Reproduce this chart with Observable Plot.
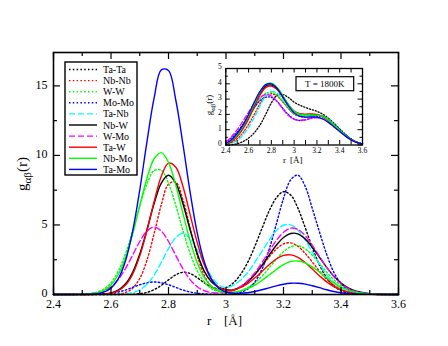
<!DOCTYPE html>
<html><head><meta charset="utf-8">
<script src="https://cdn.jsdelivr.net/npm/d3@7"></script>
<script src="https://cdn.jsdelivr.net/npm/@observablehq/plot@0.6"></script>
<style>
html,body{margin:0;padding:0;background:#fff;}
#wrap{position:relative;width:448px;height:346px;font-family:"Liberation Serif","Times New Roman",serif;}
#wrap svg{position:absolute;}
</style></head><body><div id="wrap"></div>
<script>
// ---- main panel data (r in Å, g(r)) ----
const rMain = [2.4, 2.5, 2.55, 2.575, 2.6, 2.625, 2.65, 2.675, 2.7, 2.725, 2.75, 2.775, 2.8, 2.825, 2.85, 2.875, 2.9, 2.925, 2.95, 2.975, 3.0, 3.025, 3.05, 3.075, 3.1, 3.125, 3.15, 3.175, 3.2, 3.225, 3.25, 3.275, 3.3, 3.325, 3.35, 3.375, 3.4, 3.425, 3.45, 3.5, 3.6];
const TaTa = [0, 0, 0, 0, 0, 0, .01, .02, .06, .15, .35, .66, 1.05, 1.41, 1.6, 1.51, 1.21, .83, .54, .41, .49, .82, 1.42, 2.29, 3.45, 4.75, 6.0, 6.95, 7.39, 7.15, 6.21, 4.84, 3.39, 2.13, 1.2, .61, .28, .11, .04, .01, 0];
const NbNb = [0, 0, 0, 0, .01, .04, .14, .45, 1.15, 2.46, 4.38, 6.46, 7.93, 8.08, 6.84, 4.8, 2.8, 1.35, .56, .24, .2, .3, .53, .9, 1.42, 2.04, 2.70, 3.27, 3.64, 3.71, 3.47, 2.97, 2.34, 1.68, 1.11, .68, .38, .19, .09, .02, 0];
const WW = [0, .02, .16, .39, .85, 1.67, 2.91, 4.55, 6.36, 7.96, 8.91, 8.93, 8.01, 6.43, 4.62, 2.97, 1.70, .88, .41, .2, .13, .15, .26, .49, .84, 1.32, 1.91, 2.53, 3.08, 3.43, 3.52, 3.29, 2.83, 2.24, 1.62, 1.07, .65, .36, .19, .04, 0];
const MoMo = [0, 0, .02, .04, .09, .18, .32, .51, .70, .84, .9, .84, .70, .51, .32, .18, .09, .04, .02, .01, .02, .05, .14, .38, .89, 1.81, 3.24, 5.06, 6.91, 8.24, 8.58, 7.8, 6.2, 4.5, 2.9, 1.6, .8, .35, .13, .02, 0];
const TaNb = [0, 0, 0, 0, 0, .01, .04, .13, .33, .73, 1.40, 2.31, 3.30, 4.09, 4.4, 4.05, 3.2, 2.2, 1.3, .68, .5, .66, 1.02, 1.57, 2.3, 3.1, 3.9, 4.6, 4.98, 5.01, 4.64, 3.94, 3.06, 2.19, 1.43, .86, .47, .24, .11, .02, 0];
const NbW = [0, 0, .01, .04, .11, .31, .75, 1.58, 2.91, 4.66, 6.54, 8.01, 8.57, 8.01, 6.54, 4.66, 2.95, 1.65, .9, .52, .35, .33, .55, .91, 1.44, 2.09, 2.83, 3.54, 4.1, 4.39, 4.36, 4.0, 3.4, 2.68, 1.95, 1.32, .82, .48, .26, .06, 0];
const WMo = [0, .02, .10, .25, .55, 1.07, 1.85, 2.82, 3.81, 4.56, 4.85, 4.56, 3.81, 2.82, 1.85, 1.07, .56, .27, .14, .11, .15, .30, .56, .98, 1.55, 2.28, 3.1, 3.88, 4.47, 4.77, 4.68, 4.24, 3.55, 2.74, 1.95, 1.28, .77, .43, .22, .04, 0];
const TaW = [0, 0, .01, .03, .09, .27, .66, 1.45, 2.76, 4.59, 6.69, 8.5, 9.45, 9.17, 7.78, 5.76, 3.73, 2.11, 1.07, .52, .31, .32, .49, .78, 1.18, 1.66, 2.14, 2.55, 2.81, 2.85, 2.67, 2.30, 1.83, 1.35, .91, .57, .33, .18, .09, .02, 0];
const NbMo = [0, .02, .11, .30, .69, 1.42, 2.62, 4.32, 6.36, 8.34, 9.76, 10.2, 9.5, 7.89, 5.85, 3.87, 2.29, 1.2, .58, .27, .15, .16, .25, .42, .67, 1.01, 1.40, 1.80, 2.15, 2.37, 2.41, 2.28, 1.99, 1.61, 1.21, .84, .54, .32, .18, .04, 0];
const TaMo = [0, .01, .05, .17, .46, 1.12, 2.39, 4.52, 7.51, 10.98, 14.13, 16.15, 16.1, 14.02, 10.84, 7.38, 4.42, 2.33, 1.08, .45, .18, .09, .09, .13, .22, .34, .48, .62, .74, .81, .81, .75, .63, .49, .34, .22, .13, .07, .04, .01, 0];

// ---- inset data (T = 1800K) ----
const rInset = [2.4, 2.45, 2.5, 2.55, 2.6, 2.65, 2.7, 2.75, 2.8, 2.85, 2.9, 2.95, 3.0, 3.05, 3.1, 3.15, 3.2, 3.25, 3.3, 3.35, 3.4, 3.45, 3.5, 3.55, 3.6];
const TaTaL = [0, .02, .08, .22, .45, .8, 1.3, 2.0, 2.75, 3.25, 3.3, 3.1, 2.8, 2.6, 2.45, 2.32, 2.2, 2.02, 1.75, 1.42, 1.05, .7, .4, .2, .08];
const NbNbL = [.03, .15, .4, .8, 1.35, 2.0, 2.7, 3.2, 3.35, 3.2, 2.82, 2.38, 2.02, 1.85, 1.83, 1.88, 1.92, 1.86, 1.65, 1.33, .97, .63, .36, .17, .07];
const WWL = [.08, .3, .65, 1.15, 1.75, 2.4, 3.0, 3.38, 3.45, 3.25, 2.85, 2.4, 2.05, 1.88, 1.85, 1.9, 1.95, 1.9, 1.7, 1.38, 1.0, .65, .37, .18, .08];
const MoMoL = [.15, .45, .85, 1.35, 1.9, 2.45, 2.9, 3.12, 3.12, 2.85, 2.4, 1.98, 1.7, 1.6, 1.64, 1.75, 1.84, 1.82, 1.65, 1.35, 1.0, .66, .38, .18, .08];
const TaNbL = [.02, .1, .3, .65, 1.15, 1.8, 2.55, 3.2, 3.5, 3.4, 3.0, 2.5, 2.1, 1.9, 1.88, 1.92, 1.95, 1.88, 1.65, 1.32, .97, .63, .36, .17, .07];
const NbWL = [.06, .25, .6, 1.12, 1.8, 2.6, 3.35, 3.85, 3.92, 3.68, 3.18, 2.62, 2.2, 2.02, 1.98, 1.99, 1.97, 1.85, 1.6, 1.28, .94, .6, .35, .17, .07];
const WMoL = [.2, .55, 1.0, 1.55, 2.15, 2.7, 3.1, 3.3, 3.2, 2.85, 2.35, 1.92, 1.68, 1.62, 1.66, 1.74, 1.78, 1.72, 1.52, 1.22, .9, .6, .35, .17, .07];
const TaWL = [.05, .22, .55, 1.05, 1.7, 2.5, 3.25, 3.75, 3.85, 3.62, 3.12, 2.6, 2.2, 2.05, 2.02, 2.03, 2.0, 1.85, 1.6, 1.28, .93, .6, .34, .16, .07];
const NbMoL = [.08, .3, .65, 1.2, 1.9, 2.7, 3.45, 3.95, 4.05, 3.78, 3.25, 2.65, 2.2, 2.0, 1.96, 1.97, 1.95, 1.85, 1.62, 1.3, .95, .62, .36, .18, .08];
const TaMoL = [.1, .35, .75, 1.3, 2.0, 2.8, 3.5, 3.95, 4.0, 3.7, 3.15, 2.55, 2.1, 1.88, 1.82, 1.83, 1.82, 1.7, 1.48, 1.18, .88, .58, .34, .17, .07];

const seriesNames = ["Ta-Ta", "Nb-Nb", "W-W", "Mo-Mo", "Ta-Nb", "Nb-W", "W-Mo", "Ta-W", "Nb-Mo", "Ta-Mo"];
const mainValues = [TaTa, NbNb, WW, MoMo, TaNb, NbW, WMo, TaW, NbMo, TaMo];
const insetValues = [TaTaL, NbNbL, WWL, MoMoL, TaNbL, NbWL, WMoL, TaWL, NbMoL, TaMoL];

// ticks
const xTickLabels = [2.4, 2.6, 2.8, 3, 3.2, 3.4, 3.6];
const xMinorTicks = [2.5, 2.7, 2.9, 3.1, 3.3, 3.5];
const yTickLabels = [0, 5, 10, 15];
const yMinorTicks = [2.5, 7.5, 12.5];
const insetYTicks = [0, 1, 2, 3, 4, 5];
const insetYMinor = [0.5, 1.5, 2.5, 3.5, 4.5];

// styles
const DOT = "1.5,2.3", DASH = "6,3";
const styles = [
  {stroke: "#000000", dash: DOT}, {stroke: "#ff0000", dash: DOT}, {stroke: "#00ff00", dash: DOT}, {stroke: "#0000ff", dash: DOT},
  {stroke: "#00ffff", dash: DASH}, {stroke: "#000000", dash: null}, {stroke: "#ff00ff", dash: DASH},
  {stroke: "#ff0000", dash: null}, {stroke: "#00ff00", dash: null}, {stroke: "#0000ff", dash: null}
];
const FONT = "'Liberation Serif','Times New Roman',serif";

function lines(rs, vals, sw, dotScale) {
  return vals.map((v, i) => Plot.line(rs.map((r, j) => ({r, g: v[j]})), {
    x: "r", y: "g", stroke: styles[i].stroke, strokeWidth: sw,
    strokeDasharray: styles[i].dash ? styles[i].dash.split(",").map(d => +d * dotScale).join(",") : undefined,
    curve: "catmull-rom"
  }));
}

// ---------- main plot ----------
const W = 448, H = 346, mL = 53, mR = 50, mT = 52, mB = 52;
const FW = W - mL - mR, FH = H - mT - mB;
const main = Plot.plot({
  width: W, height: H, marginLeft: mL, marginRight: mR, marginTop: mT, marginBottom: mB,
  style: {fontFamily: FONT, fontSize: "12px", background: "transparent", color: "#000"},
  x: {domain: [2.4, 3.6]},
  y: {domain: [0, 17.4]},
  marks: [
    ...lines(rMain, mainValues, 1.4, 1),
    Plot.axisX({ticks: xTickLabels, tickSize: 0, tickPadding: 5, tickFormat: d => `${d}`, label: null}),
    Plot.axisY({ticks: yTickLabels, tickSize: 0, tickPadding: 6, tickFormat: d => `${d}`, label: null, dy: -1}),
    Plot.ruleX(xTickLabels, {x: d => d, insetTop: FH - 7, strokeWidth: 1.2}),
    Plot.ruleX(xMinorTicks, {x: d => d, insetTop: FH - 4, strokeWidth: 1.2}),
    Plot.ruleX(xTickLabels, {x: d => d, insetBottom: FH - 7, strokeWidth: 1.2}),
    Plot.ruleX(xMinorTicks, {x: d => d, insetBottom: FH - 4, strokeWidth: 1.2}),
    Plot.ruleY(yTickLabels, {y: d => d, insetRight: FW - 7, strokeWidth: 1.2}),
    Plot.ruleY(yMinorTicks, {y: d => d, insetRight: FW - 4, strokeWidth: 1.2}),
    Plot.ruleY(yTickLabels, {y: d => d, insetLeft: FW - 7, strokeWidth: 1.2}),
    Plot.ruleY(yMinorTicks, {y: d => d, insetLeft: FW - 4, strokeWidth: 1.2}),
    Plot.frame({stroke: "#000", strokeWidth: 1.6})
  ]
});
main.style.left = "0px"; main.style.top = "0px";
document.getElementById("wrap").appendChild(main);

const ms = d3.select(main);
// x title
ms.append("text").attr("x", 207).attr("y", 325).attr("text-anchor", "start").attr("font-size", 13).attr("font-family", FONT).text("r");
ms.append("text").attr("x", 224).attr("y", 325).attr("text-anchor", "start").attr("font-size", 13).attr("font-family", FONT).text("[Å]");
// y title
function yTitle(sel, x, y, big, small, shift) {
  const t = sel.append("text").attr("transform", `translate(${x},${y}) rotate(-90)`)
    .attr("text-anchor", "middle").attr("font-family", FONT).attr("font-size", big);
  t.append("tspan").text("g");
  t.append("tspan").attr("font-size", small).attr("dy", shift).text("αβ");
  t.append("tspan").attr("dy", -shift).text("(r)");
}
yTitle(ms, 27, 174, 15, 11, 4);

// legend
const lg = ms.append("g");
lg.append("rect").attr("x", 65).attr("y", 62).attr("width", 72).attr("height", 113)
  .attr("fill", "#fff").attr("stroke", "#000").attr("stroke-width", 1.4);
seriesNames.forEach((name, i) => {
  const yy = 69.5 + i * 11.1;
  lg.append("line").attr("x1", 69).attr("x2", 97).attr("y1", yy).attr("y2", yy)
    .attr("stroke", styles[i].stroke).attr("stroke-width", 1.4)
    .attr("stroke-dasharray", styles[i].dash);
  lg.append("text").attr("x", 103).attr("y", yy + 3.5).attr("text-anchor", "start")
    .attr("font-size", 10).attr("font-family", FONT).text(name);
});

// ---------- inset ----------
const iLeft = 188, iTop = 58, iW = 180, iH = 112;
const imL = 37.3, imR = 6, imT = 10, imB = 25.5;
const iFW = iW - imL - imR, iFH = iH - imT - imB;
const inset = Plot.plot({
  width: iW, height: iH, marginLeft: imL, marginRight: imR, marginTop: imT, marginBottom: imB,
  style: {fontFamily: FONT, fontSize: "7.5px", background: "transparent", color: "#000"},
  x: {domain: [2.4, 3.6]},
  y: {domain: [0, 5]},
  marks: [
    ...lines(rInset, insetValues, 1.3, 0.8),
    Plot.axisX({ticks: xTickLabels, tickSize: 0, tickPadding: 3, tickFormat: d => `${d}`, label: null}),
    Plot.axisY({ticks: insetYTicks, tickSize: 0, tickPadding: 4, tickFormat: d => `${d}`, label: null, dy: -1.5}),
    Plot.ruleX(xTickLabels, {x: d => d, insetTop: iFH - 4.5}),
    Plot.ruleX(xMinorTicks, {x: d => d, insetTop: iFH - 4.5}),
    Plot.ruleX(xTickLabels, {x: d => d, insetBottom: iFH - 4.5}),
    Plot.ruleX(xMinorTicks, {x: d => d, insetBottom: iFH - 4.5}),
    Plot.ruleY(insetYTicks, {y: d => d, insetRight: iFW - 4.5}),
    Plot.ruleY(insetYMinor, {y: d => d, insetRight: iFW - 2.5}),
    Plot.ruleY(insetYTicks, {y: d => d, insetLeft: iFW - 4.5}),
    Plot.ruleY(insetYMinor, {y: d => d, insetLeft: iFW - 2.5}),
    Plot.frame({stroke: "#000", strokeWidth: 1.3})
  ]
});
inset.style.left = iLeft + "px"; inset.style.top = iTop + "px";
document.getElementById("wrap").appendChild(inset);
const is = d3.select(inset).style("overflow", "visible");
is.append("text").attr("x", 95).attr("y", 105).attr("text-anchor", "start").attr("font-size", 9).attr("font-family", FONT).text("r");
is.append("text").attr("x", 102).attr("y", 105).attr("text-anchor", "start").attr("font-size", 9).attr("font-family", FONT).text("[Å]");
yTitle(is, 24, 47, 9, 7, 2.5);
is.append("rect").attr("x", 108).attr("y", 18.7).attr("width", 57.7).attr("height", 14)
  .attr("fill", "#fff").attr("stroke", "#000").attr("stroke-width", 1.2);
is.append("text").attr("x", 136.8).attr("y", 29).attr("text-anchor", "middle")
  .attr("font-size", 9).attr("font-family", FONT).text("T = 1800K");
</script></body></html>
